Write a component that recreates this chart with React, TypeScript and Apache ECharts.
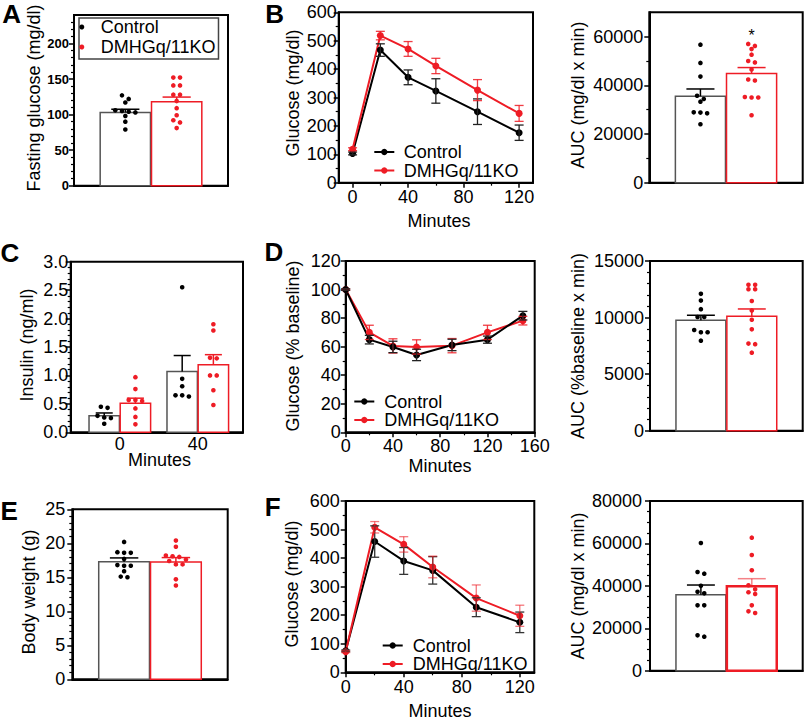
import React, { useEffect, useRef } from "react";
import * as echarts from "echarts";

const FONT = "'Liberation Sans', Arial, Helvetica, sans-serif";
const RED = "#ee1c25";
const GROUPS = ["Control", "DMHGq/11KO"];

// ---------- A: fasting glucose ----------
const aCtrl = [127, 122, 117, 106, 105, 104, 103, 98, 90, 79];
const aKO = [152, 152, 141, 141, 128, 128, 119, 109, 99, 92, 89, 81];
const aMean = [103, 118];
const aSem = [4.5, 6.6];
const aYTicks = [0, 50, 100, 150, 200];

// ---------- B: GTT ----------
const bMinutes = [0, 20, 40, 60, 90, 120];
const bCtrl = [103, 467, 371, 323, 250, 176];
const bCtrlSem = [5, 22, 26, 43, 45, 27];
const bKO = [118, 518, 471, 411, 326, 244];
const bKOSem = [5, 15, 26, 27, 37, 28];
const bXTicks = [0, 40, 80, 120];
const bYTicks = [0, 100, 200, 300, 400, 500, 600];
// B AUC
const bAucCtrl = [56700, 49200, 43600, 35700, 34400, 33300, 28900, 28800, 28500, 24000];
const bAucKO = [57000, 56200, 54900, 52600, 50000, 49400, 46500, 42400, 42000, 35200, 35000, 35000, 27700];
const bAucMean = [35500, 44900];
const bAucSem = [3000, 2400];
const bAucSig = ["", "*"];
const bAucYTicks = [0, 20000, 40000, 60000];

// ---------- C: insulin ----------
const cCats = ["0", "40"];
const cCtrl = [
  [0.45, 0.43, 0.29, 0.26, 0.25, 0.15],
  [2.55, 0.94, 0.81, 0.65, 0.65, 0.63],
];
const cKO = [
  [0.97, 0.76, 0.57, 0.57, 0.55, 0.42, 0.27, 0.14],
  [1.9, 1.79, 1.31, 1.3, 1.0, 1.0, 0.74, 0.48],
];
const cCtrlMean = [0.29, 1.07];
const cCtrlSem = [0.05, 0.28];
const cKOMean = [0.51, 1.19];
const cKOSem = [0.09, 0.175];
const cYTicks = [0, 0.5, 1.0, 1.5, 2.0, 2.5, 3.0];

// ---------- D: ITT ----------
const dMinutes = [0, 20, 40, 60, 90, 120, 150];
const dCtrl = [100, 64.9, 59.8, 54.2, 61.2, 64.9, 81.7];
const dCtrlSem = [0.5, 3, 4, 4, 4, 2.5, 3];
const dKO = [100, 70, 60.5, 59.8, 60.7, 70, 78.2];
const dKOSem = [0.5, 5, 5, 5, 5, 5, 3];
const dXTicks = [0, 40, 80, 120, 160];
const dYTicks = [0, 20, 40, 60, 80, 100, 120];
// D AUC
const dAucCtrl = [12100, 11500, 10740, 10050, 10050, 8900, 8700, 8700, 7960];
const dAucKO = [12900, 12900, 12500, 12500, 11460, 10630, 9810, 8960, 7700, 7650, 6900];
const dAucMean = [9755, 10110];
const dAucSem = [450, 650];
const dAucYTicks = [0, 5000, 10000, 15000];

// ---------- E: body weight ----------
const eCtrl = [20.2, 18.7, 18.6, 18.6, 17.7, 16.8, 16.7, 16.7, 15.9, 15.1, 15.0];
const eKO = [20.4, 19.5, 18.2, 18.1, 18.0, 17.6, 17.4, 16.9, 16.9, 14.7, 13.8];
const eMean = [17.3, 17.25];
const eSem = [0.55, 0.65];
const eYTicks = [0, 5, 10, 15, 20, 25];

// ---------- F: GTT ----------
const fMinutes = [0, 20, 40, 60, 90, 120];
const fCtrl = [75, 458, 390, 357, 228, 175];
const fCtrlSem = [3, 55, 47, 48, 33, 36];
const fKO = [72, 508, 448, 369, 260, 198];
const fKOSem = [3, 20, 27, 38, 46, 37];
const fXTicks = [0, 40, 80, 120];
const fYTicks = [0, 100, 200, 300, 400, 500, 600];
// F AUC
const fAucCtrl = [60200, 46540, 45750, 40000, 37240, 36460, 30800, 30800, 16660, 16030];
const fAucKO = [62700, 54560, 47340, 40300, 38400, 37000, 36200, 30800, 28000, 27200];
const fAucMean = [35830, 39760];
const fAucSem = [4560, 3620];
const fAucYTicks = [0, 20000, 40000, 60000, 80000];

// ---------- helpers ----------
const range = (a: number, b: number, s: number) => {
  const r: number[] = [];
  for (let v = a; v <= b + 1e-9; v += s) r.push(Math.round(v * 1000) / 1000);
  return r;
};
const minorsOf = (a: number, b: number, s: number, majors: number[]) =>
  range(a, b, s).filter((v) => !majors.some((m) => Math.abs(m - v) < 1e-6));

function swarm(ys: number[], sp: number, th: number) {
  const idx = ys.map((_, i) => i).sort((a, b) => ys[a] - ys[b]);
  const off = new Array(ys.length).fill(0);
  let k = 0;
  while (k < idx.length) {
    let j = k;
    while (j + 1 < idx.length && ys[idx[j + 1]] - ys[idx[k]] < th) j++;
    const n = j - k + 1;
    for (let q = 0; q < n; q++) off[idx[k + q]] = (q - (n - 1) / 2) * sp;
    k = j + 1;
  }
  return off;
}

function buildOption() {
  const grid: any[] = [];
  const xAxis: any[] = [];
  const yAxis: any[] = [];
  const series: any[] = [];
  const legend: any[] = [];
  const graphic: any[] = [];

  const addGrid = (g: { left: number; top: number; width: number; height: number }) => {
    grid.push({
      left: g.left,
      top: g.top,
      width: g.width,
      height: g.height,
      show: true,
      borderColor: "#000",
      borderWidth: 2,
      backgroundColor: "transparent",
    });
    return grid.length - 1;
  };

  const labelBase = { fontSize: 18, color: "#000", fontFamily: FONT };

  const addAxis = (
    arr: any[],
    pos: string,
    gi: number,
    min: number,
    max: number,
    majors: number[],
    minors: number[],
    label: any | null
  ) => {
    const idx = arr.length;
    arr.push({
      type: "value",
      gridIndex: gi,
      position: pos,
      min,
      max,
      axisLine: { show: true, onZero: false, lineStyle: { color: "#000", width: 2 } },
      axisTick: majors.length
        ? { show: true, customValues: majors, length: 5, lineStyle: { color: "#000", width: 1.5 } }
        : { show: false },
      axisLabel: label
        ? { show: true, customValues: label.values || majors, ...labelBase, ...label }
        : { show: false },
      splitLine: { show: false },
    });
    if (minors.length) {
      arr.push({
        type: "value",
        gridIndex: gi,
        position: pos,
        min,
        max,
        axisLine: { show: false, onZero: false },
        axisTick: { show: true, customValues: minors, length: 3, lineStyle: { color: "#000", width: 1.2 } },
        axisLabel: { show: false },
        splitLine: { show: false },
      });
    }
    return idx;
  };

  const plain = (v: number) => String(v);

  const text = (x: number, y: number, t: string, opts: any = {}) => {
    graphic.push({
      type: "text",
      x,
      y,
      rotation: opts.rot ? Math.PI / 2 : 0,
      style: {
        text: t,
        fontSize: opts.size || 18,
        fontWeight: opts.bold ? "bold" : "normal",
        fontFamily: FONT,
        fill: "#000",
        align: "center",
        verticalAlign: "middle",
        textAlign: "center",
        textVerticalAlign: "middle",
      },
    });
  };

  // bar + error (+dots)
  const addBarGroup = (
    key: string,
    xi: number,
    yi: number,
    x: number,
    mean: number,
    sem: number,
    pts: number[],
    gIdx: number,
    barW: number,
    opts: any = {}
  ) => {
    const color = gIdx === 0 ? "#000" : RED;
    const stroke = gIdx === 0 ? "#555" : RED;
    const errColor = opts.errColor || color;
    const sig = opts.sig || "";
    series.push({
      type: "custom",
      name: key + "|bar" + gIdx,
      xAxisIndex: xi,
      yAxisIndex: yi,
      z: 2,
      data: [[x, mean, sem]],
      renderItem: (params: any, api: any) => {
        const vx = api.value(0);
        const m = api.value(1);
        const s = api.value(2);
        const p0 = api.coord([vx, 0]);
        const p1 = api.coord([vx, m]);
        const p2 = api.coord([vx, m + s]);
        const w = api.size([barW, 0])[0];
        const cap = Math.min(30, w * 0.56);
        const children: any[] = [
          {
            type: "rect",
            shape: { x: p1[0] - w / 2, y: p1[1], width: w, height: p0[1] - p1[1] },
            style: { fill: "#fff", stroke, lineWidth: opts.strokeW || 1.5 },
          },
          {
            type: "line",
            shape: { x1: p1[0], y1: p1[1], x2: p1[0], y2: p2[1] },
            style: { stroke: errColor, lineWidth: 1.5 },
          },
          {
            type: "line",
            shape: { x1: p1[0] - cap / 2, y1: p2[1], x2: p1[0] + cap / 2, y2: p2[1] },
            style: { stroke: errColor, lineWidth: 1.5 },
          },
        ];
        if (sig) {
          const top = api.coord([vx, Math.max(...pts)]);
          children.push({
            type: "text",
            x: top[0],
            y: top[1] - 8,
            style: {
              text: sig,
              fontSize: 16,
              fontFamily: FONT,
              fill: "#000",
              align: "center",
              verticalAlign: "middle",
            },
          });
        }
        return { type: "group", children };
      },
    });
    series.push({
      type: "custom",
      name: key + "|" + GROUPS[gIdx],
      xAxisIndex: xi,
      yAxisIndex: yi,
      z: 3,
      itemStyle: { color },
      data: pts.map((v) => [x, v]),
      renderItem: (params: any, api: any) => {
        const i = params.dataIndex;
        const ys = pts.map((v) => api.coord([x, v])[1]);
        const offs = swarm(ys, 6.7, 4.5);
        const c = api.coord([x, pts[i]]);
        return { type: "circle", shape: { cx: c[0] + offs[i], cy: c[1], r: 2.3 }, style: { fill: color } };
      },
    });
  };

  const addLineGroup = (
    key: string,
    xi: number,
    yi: number,
    times: number[],
    mean: number[],
    sem: number[],
    gIdx: number,
    errColor: string
  ) => {
    const color = gIdx === 0 ? "#000" : RED;
    series.push({
      type: "line",
      name: key + "|" + GROUPS[gIdx],
      xAxisIndex: xi,
      yAxisIndex: yi,
      data: times.map((t, i) => [t, mean[i]]),
      symbol: "circle",
      symbolSize: 7,
      showSymbol: true,
      lineStyle: { color, width: 2 },
      itemStyle: { color },
      z: 3,
    });
    series.push({
      type: "custom",
      name: key + "|err" + gIdx,
      xAxisIndex: xi,
      yAxisIndex: yi,
      z: 4,
      data: times.map((t, i) => [t, mean[i], sem[i]]),
      renderItem: (params: any, api: any) => {
        const t = api.value(0);
        const m = api.value(1);
        const s = api.value(2);
        const lo = api.coord([t, m - s]);
        const hi = api.coord([t, m + s]);
        const cw = 4.5;
        const st = { stroke: errColor, lineWidth: 1.3 };
        return {
          type: "group",
          children: [
            { type: "line", shape: { x1: lo[0], y1: lo[1], x2: hi[0], y2: hi[1] }, style: st },
            { type: "line", shape: { x1: lo[0] - cw, y1: lo[1], x2: lo[0] + cw, y2: lo[1] }, style: st },
            { type: "line", shape: { x1: hi[0] - cw, y1: hi[1], x2: hi[0] + cw, y2: hi[1] }, style: st },
          ],
        };
      },
    });
  };

  const lineLegend = (key: string, left: number, rows: number[], tp: number) => {
    GROUPS.forEach((g, i) => {
      legend.push({
        data: [key + "|" + g],
        left,
        top: rows[i] - 9,
        orient: "horizontal",
        padding: 0,
        itemWidth: 20,
        itemHeight: 8,
        selectedMode: false,
        formatter: (n: string) => n.split("|")[1],
        textStyle: { fontSize: 18, lineHeight: 18, fontFamily: FONT, color: "#000", padding: [0, 0, 0, tp] },
      });
    });
  };

  // ===== Panel A =====
  {
    const gi = addGrid({ left: 74, top: 15, width: 154, height: 170.7 });
    const xi = addAxis(xAxis, "bottom", gi, -1, 2, [], [], null);
    const yi = addAxis(yAxis, "left", gi, 0, 240, aYTicks, minorsOf(0, 230, 10, aYTicks), {
      fontSize: 13,
      fontWeight: "bold",
      margin: 5,
      formatter: plain,
    });
    addBarGroup("A", xi, yi, 0, aMean[0], aSem[0], aCtrl, 0, 0.98);
    addBarGroup("A", xi, yi, 1, aMean[1], aSem[1], aKO, 1, 0.98);
    legend.push({
      data: GROUPS.map((g) => "A|" + g),
      left: 79,
      top: 18,
      orient: "vertical",
      padding: [0, 3, 3, 0.3],
      itemGap: 2,
      itemWidth: 10,
      itemHeight: 5,
      icon: "circle",
      selectedMode: false,
      borderColor: "#444",
      borderWidth: 1.5,
      formatter: (n: string) => n.split("|")[1],
      textStyle: { fontSize: 18, lineHeight: 18, fontFamily: FONT, color: "#000", padding: [0, 0, 0, 9] },
    });
    text(34, 98, "Fasting glucose (mg/dl)", { rot: true });
    text(11.7, 14, "A", { size: 26, bold: true });
  }

  // ===== Panel B line =====
  {
    const gi = addGrid({ left: 338.7, top: 12.3, width: 194.3, height: 170.4 });
    const xi = addAxis(xAxis, "bottom", gi, -10, 130, bXTicks, [20, 60, 100], { margin: 5, formatter: plain });
    const yi = addAxis(yAxis, "left", gi, 0, 600, bYTicks, minorsOf(50, 550, 100, bYTicks), {
      margin: 2,
      formatter: plain,
    });
    addLineGroup("B", xi, yi, bMinutes, bCtrl, bCtrlSem, 0, "#222");
    addLineGroup("B", xi, yi, bMinutes, bKO, bKOSem, 1, "rgba(237,28,36,0.85)");
    lineLegend("B", 373.3, [152, 170.5], 4.4);
    text(292.5, 93, "Glucose (mg/dl)", { rot: true });
    text(439, 221, "Minutes");
    text(274.7, 14, "B", { size: 26, bold: true });
  }

  // ===== Panel B AUC =====
  {
    const gi = addGrid({ left: 649.3, top: 12.3, width: 153.4, height: 170.4 });
    const xi = addAxis(xAxis, "bottom", gi, -1, 2, [], [], null);
    const yi = addAxis(yAxis, "left", gi, 0, 70000, bAucYTicks, [10000, 30000, 50000], {
      margin: 6,
      formatter: plain,
    });
    addBarGroup("BA", xi, yi, 0, bAucMean[0], bAucSem[0], bAucCtrl, 0, 0.98, { sig: bAucSig[0] });
    addBarGroup("BA", xi, yi, 1, bAucMean[1], bAucSem[1], bAucKO, 1, 0.98, { sig: bAucSig[1] });
    text(577.5, 95, "AUC (mg/dl x min)", { rot: true });
  }

  // ===== Panel C =====
  {
    const gi = addGrid({ left: 70.7, top: 261.7, width: 172.3, height: 170.6 });
    const xi = addAxis(xAxis, "bottom", gi, -0.63, 1.58, [], [], {
      values: [0, 1],
      margin: 3,
      formatter: (v: number) => cCats[Math.round(v)],
    });
    const yi = addAxis(yAxis, "left", gi, 0, 3, cYTicks, minorsOf(0, 2.9, 0.1, cYTicks), {
      margin: 2.5,
      formatter: (v: number) => v.toFixed(1),
    });
    cCats.forEach((_, g) => {
      addBarGroup("C" + g, xi, yi, g - 0.2, cCtrlMean[g], cCtrlSem[g], cCtrl[g], 0, 0.39);
      addBarGroup("C" + g, xi, yi, g + 0.2, cKOMean[g], cKOSem[g], cKO[g], 1, 0.39);
    });
    text(27, 345, "Insulin (ng/ml)", { rot: true });
    text(159.5, 460, "Minutes");
    text(10, 253.3, "C", { size: 26, bold: true });
  }

  // ===== Panel D line =====
  {
    const gi = addGrid({ left: 345.7, top: 261, width: 189, height: 171.3 });
    const xi = addAxis(xAxis, "bottom", gi, 0, 160, dXTicks, [20, 60, 100, 140], { margin: 5, formatter: plain });
    const yi = addAxis(yAxis, "left", gi, 0, 120, dYTicks, minorsOf(10, 110, 20, dYTicks), {
      margin: 5,
      formatter: plain,
    });
    addLineGroup("D", xi, yi, dMinutes, dKO, dKOSem, 1, "rgba(237,28,36,0.85)");
    addLineGroup("D", xi, yi, dMinutes, dCtrl, dCtrlSem, 0, "#222");
    lineLegend("D", 353.3, [401.5, 420], 5);
    text(293, 346, "Glucose (% baseline)", { rot: true });
    text(440, 466, "Minutes");
    text(274, 251.7, "D", { size: 26, bold: true });
  }

  // ===== Panel D AUC =====
  {
    const gi = addGrid({ left: 650, top: 261, width: 152.7, height: 169.7 });
    const xi = addAxis(xAxis, "bottom", gi, -1, 2, [], [], null);
    const yi = addAxis(yAxis, "left", gi, 0, 15000, dAucYTicks, minorsOf(0, 14000, 1000, dAucYTicks), {
      margin: 6,
      formatter: plain,
    });
    addBarGroup("DA", xi, yi, 0, dAucMean[0], dAucSem[0], dAucCtrl, 0, 0.98);
    addBarGroup("DA", xi, yi, 1, dAucMean[1], dAucSem[1], dAucKO, 1, 0.98);
    text(577.5, 346, "AUC (%baseline x min)", { rot: true });
  }

  // ===== Panel E =====
  {
    const gi = addGrid({ left: 72.3, top: 509.3, width: 155.4, height: 170 });
    const xi = addAxis(xAxis, "bottom", gi, -1, 2, [], [], null);
    const yi = addAxis(yAxis, "left", gi, 0, 25, eYTicks, minorsOf(0, 24, 1, eYTicks), {
      margin: 7,
      formatter: plain,
    });
    addBarGroup("E", xi, yi, 0, eMean[0], eSem[0], eCtrl, 0, 0.98);
    addBarGroup("E", xi, yi, 1, eMean[1], eSem[1], eKO, 1, 0.98);
    text(28.5, 592, "Body weight (g)", { rot: true });
    text(9.2, 510.8, "E", { size: 26, bold: true });
  }

  // ===== Panel F line =====
  {
    const gi = addGrid({ left: 345.7, top: 501, width: 188.6, height: 171.3 });
    const xi = addAxis(xAxis, "bottom", gi, 0, 130, fXTicks, [20, 60, 100], { margin: 5.5, formatter: plain });
    const yi = addAxis(yAxis, "left", gi, 0, 600, fYTicks, minorsOf(50, 550, 100, fYTicks), {
      margin: 6,
      formatter: plain,
    });
    addLineGroup("F", xi, yi, fMinutes, fCtrl, fCtrlSem, 0, "#333");
    addLineGroup("F", xi, yi, fMinutes, fKO, fKOSem, 1, "rgba(237,28,36,0.6)");
    lineLegend("F", 381.7, [645.5, 664], 5);
    text(292, 584, "Glucose (mg/dl)", { rot: true });
    text(440, 711, "Minutes");
    text(272.7, 506.7, "F", { size: 26, bold: true });
  }

  // ===== Panel F AUC =====
  {
    const gi = addGrid({ left: 650, top: 501, width: 152.7, height: 169.7 });
    const xi = addAxis(xAxis, "bottom", gi, -1, 2, [], [], null);
    const yi = addAxis(yAxis, "left", gi, 0, 80000, fAucYTicks, minorsOf(0, 75000, 5000, fAucYTicks), {
      margin: 8,
      formatter: plain,
    });
    addBarGroup("FA", xi, yi, 0, fAucMean[0], fAucSem[0], fAucCtrl, 0, 0.98);
    addBarGroup("FA", xi, yi, 1, fAucMean[1], fAucSem[1], fAucKO, 1, 0.98, {
      strokeW: 2.5,
      errColor: "rgba(237,28,36,0.55)",
    });
    text(577.5, 586, "AUC (mg/dl x min)", { rot: true });
  }

  return {
    animation: false,
    backgroundColor: "#fff",
    textStyle: { fontFamily: FONT },
    grid,
    xAxis,
    yAxis,
    series,
    legend,
    graphic,
  };
}

export default function App() {
  const ref = useRef<HTMLDivElement>(null);
  useEffect(() => {
    if (!ref.current) return;
    const chart = echarts.init(ref.current, null, { renderer: "svg" });
    chart.setOption(buildOption() as any);
    return () => chart.dispose();
  }, []);
  return (
    <div style={{ position: "fixed", left: 0, top: 0, width: 805, height: 724, background: "#fff" }}>
      <div ref={ref} style={{ width: 805, height: 724 }} />
    </div>
  );
}
